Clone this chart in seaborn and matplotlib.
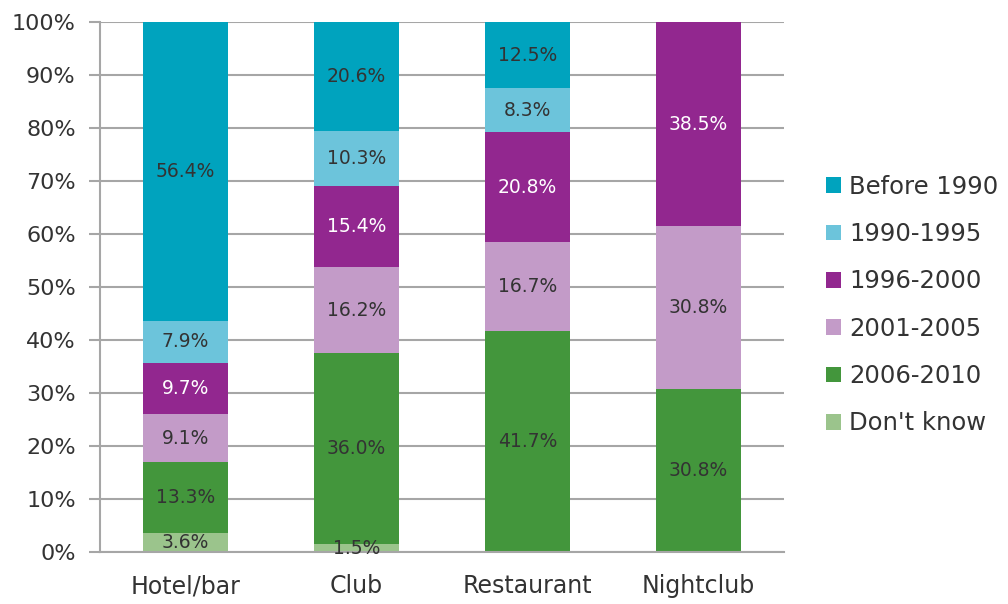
import matplotlib
matplotlib.use("Agg")
import matplotlib.pyplot as plt
import seaborn as sns
import numpy as np
import pandas as pd
from matplotlib.patches import Patch
from matplotlib.ticker import FixedLocator

categories = ["Hotel/bar", "Club", "Restaurant", "Nightclub"]
series_names = ["Don't know", "2006-2010", "2001-2005", "1996-2000", "1990-1995", "Before 1990"]
dont_know = [3.6, 1.5, 0.0, 0.0]
y2006_2010 = [13.3, 36.0, 41.7, 30.8]
y2001_2005 = [9.1, 16.2, 16.7, 30.8]
y1996_2000 = [9.7, 15.4, 20.8, 38.5]
y1990_1995 = [7.9, 10.3, 8.3, 0.0]
before_1990 = [56.4, 20.6, 12.5, 0.0]
colors = ["#9BC48C", "#43963C", "#C39BC8", "#92278F", "#6CC4DB", "#00A3BE"]
label_colors = ["#333333", "#333333", "#333333", "#FFFFFF", "#333333", "#333333"]
yticks = [0, 10, 20, 30, 40, 50, 60, 70, 80, 90, 100]

values = [dont_know, y2006_2010, y2001_2005, y1996_2000, y1990_1995, before_1990]
arr = np.array(values)
cum = np.cumsum(arr, axis=0)
cum = np.minimum(cum, 100.0)

sns.set_theme(style="white")
plt.rcParams['font.family'] = ['DejaVu Sans']
fig = plt.figure(figsize=(10.08, 6.04), dpi=100)
ax = fig.add_axes([0.0992, 0.0861, 0.6786, 0.8775])

grid_c = "#A6A6A6"
for y in yticks:
    ax.axhline(y, color=grid_c, lw=1.5, zorder=0)

# draw from the top layer down (cumulative totals)
for i in range(len(series_names) - 1, -1, -1):
    df = pd.DataFrame({"cat": categories, "val": cum[i]})
    sns.barplot(data=df, x="cat", y="val", color=colors[i], width=0.5,
                saturation=1, ax=ax, zorder=2, linewidth=0)

# labels
for i, name in enumerate(series_names):
    bottoms = cum[i] - arr[i]
    for j in range(len(categories)):
        v = arr[i][j]
        if v <= 0:
            continue
        ax.text(j, bottoms[j] + v / 2, f"{v:.1f}%", ha="center", va="center",
                fontsize=13.5, color=label_colors[i], zorder=5)

ax.set_xlim(-0.5, 3.5)
ax.set_ylim(0, 100)
ax.set_yticks(yticks)
ax.set_yticklabels([f"{t}%" for t in yticks])
ax.set_xlabel("")
ax.set_ylabel("")
ax.xaxis.set_minor_locator(FixedLocator([-0.5, 0.5, 1.5, 2.5, 3.5]))
ax.tick_params(axis="x", which="major", length=0, pad=16, labelsize=17, colors="#333333")
ax.tick_params(axis="x", which="minor", length=8, width=1.5, color=grid_c, direction="out")
ax.tick_params(axis="y", which="major", length=8, width=1.5, color=grid_c, direction="out",
               labelsize=16, labelcolor="#333333", pad=9.5, left=True)
for s in ["top", "right"]:
    ax.spines[s].set_visible(False)
for s in ["left", "bottom"]:
    ax.spines[s].set_color(grid_c)
    ax.spines[s].set_linewidth(1.5)
ax.spines["left"].set_zorder(6)

handles = [Patch(facecolor=colors[i], edgecolor="none", label=series_names[i])
           for i in range(len(series_names) - 1, -1, -1)]
fig.legend(handles=handles, loc="center left", bbox_to_anchor=(0.819, 0.495),
           frameon=False, fontsize=17.5, handlelength=0.63, handleheight=0.63,
           handletextpad=0.33, labelspacing=0.96, labelcolor="#333333",
           borderpad=0, borderaxespad=0)

fig.savefig("out.png", dpi=100)
